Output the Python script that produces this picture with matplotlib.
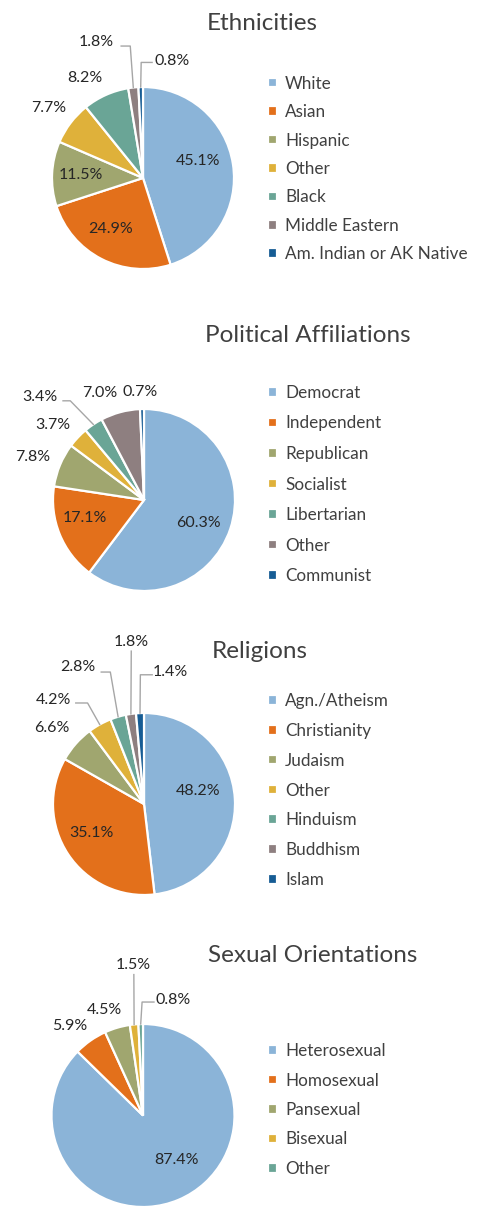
import numpy as np
import matplotlib.pyplot as plt

plt.rcParams['font.family'] = ['Lato', 'DejaVu Sans']

W, H = 480, 1223

colors = ['#8BB4D8', '#E3701B', '#A0A66F', '#DFB13A', '#6AA596', '#8E7F80', '#165C94']

eth_labels = ['White', 'Asian', 'Hispanic', 'Other', 'Black', 'Middle Eastern',
              'Am. Indian or AK Native']
eth_values = [45.1, 24.9, 11.5, 7.7, 8.2, 1.8, 0.8]

pol_labels = ['Democrat', 'Independent', 'Republican', 'Socialist', 'Libertarian',
              'Other', 'Communist']
pol_values = [60.3, 17.1, 7.8, 3.7, 3.4, 7.0, 0.7]

rel_labels = ['Agn./Atheism', 'Christianity', 'Judaism', 'Other', 'Hinduism',
              'Buddhism', 'Islam']
rel_values = [48.2, 35.1, 6.6, 4.2, 2.8, 1.8, 1.4]

sex_labels = ['Heterosexual', 'Homosexual', 'Pansexual', 'Bisexual', 'Other']
sex_values = [87.4, 5.9, 4.5, 1.5, 0.8]

# label placement in pie-radius units, optional leader line (start, knee)
eth_pos = [(0.60, 0.19), (-0.36, -0.56), (-0.68, 0.03), (-1.04, 0.77),
           (-0.64, 1.10), (-0.51, 1.49), (0.32, 1.29)]
eth_lead = [None, None, None, None, None,
            [(-0.24, 1.45), (-0.14, 1.45)], [(0.10, 1.27), (-0.02, 1.27)]]

pol_pos = [(0.60, -0.25), (-0.65, -0.20), (-1.22, 0.47), (-1.00, 0.82),
           (-1.14, 1.13), (-0.49, 1.18), (-0.04, 1.19)]
pol_lead = [None, None, None, None, [(-0.89, 1.09), (-0.81, 1.09)], None, None]

rel_pos = [(0.60, 0.14), (-0.58, -0.32), (-1.01, 0.84), (-0.99, 1.14),
           (-0.73, 1.51), (-0.14, 1.78), (0.29, 1.45)]
rel_lead = [None, None, None, [(-0.75, 1.11), (-0.62, 1.11)],
            [(-0.47, 1.45), (-0.37, 1.45)], [(-0.14, 1.68), (-0.14, 1.68)],
            [(0.09, 1.42), (-0.04, 1.42)]]

sex_pos = [(0.37, -0.49), (-0.80, 0.98), (-0.42, 1.15), (-0.11, 1.64), (0.33, 1.26)]
sex_lead = [None, None, None, [(-0.10, 1.54), (-0.10, 1.54)],
            [(0.12, 1.24), (-0.01, 1.24)]]

fig = plt.figure(figsize=(W / 100, H / 100), dpi=100)


def draw_pie(values, labels, pos, lead, title, cx, cy, r, title_xy, leg_y, leg_space):
    ax = fig.add_axes([(cx - r) / W, (H - cy - r) / H, 2 * r / W, 2 * r / H])
    wedges, _ = ax.pie(values, colors=colors[:len(values)], startangle=90,
                       counterclock=False, radius=1,
                       wedgeprops=dict(edgecolor='white', linewidth=1.6))
    ax.set_xlim(-1, 1)
    ax.set_ylim(-1, 1)
    ax.axis('off')
    for v, w, p, ld in zip(values, wedges, pos, lead):
        ax.text(p[0], p[1], f'{v:.1f}%', ha='center', va='center',
                fontsize=11.5, color='#262626')
        if ld is not None:
            mid = np.deg2rad((w.theta1 + w.theta2) / 2)
            xs = [ld[0][0], ld[1][0], np.cos(mid)]
            ys = [ld[0][1], ld[1][1], np.sin(mid)]
            ax.plot(xs, ys, color='#A6A6A6', lw=1, clip_on=False)
    fig.text(title_xy[0] / W, 1 - title_xy[1] / H, title, ha='center', va='center',
             fontsize=17.5, color='#404040')
    fig.legend(wedges, labels, loc='center left',
               bbox_to_anchor=(268 / W, 1 - leg_y / H), frameon=False,
               fontsize=12.3, labelcolor='#404040', handlelength=0.5,
               handleheight=0.5, handletextpad=0.5, labelspacing=leg_space,
               borderpad=0, borderaxespad=0)


draw_pie(eth_values, eth_labels, eth_pos, eth_lead, 'Ethnicities',
         143, 178, 91, (262, 24), 169, 0.73)
draw_pie(pol_values, pol_labels, pol_pos, pol_lead, 'Political Affiliations',
         144, 500, 91, (308, 336), 484.5, 0.85)
draw_pie(rel_values, rel_labels, rel_pos, rel_lead, 'Religions',
         144, 804, 91, (260, 652), 790.5, 0.81)
draw_pie(sex_values, sex_labels, sex_pos, sex_lead, 'Sexual Orientations',
         143, 1115.5, 91.5, (313, 956), 1110, 0.79)

fig.savefig('out.png', dpi=100, facecolor='white')
